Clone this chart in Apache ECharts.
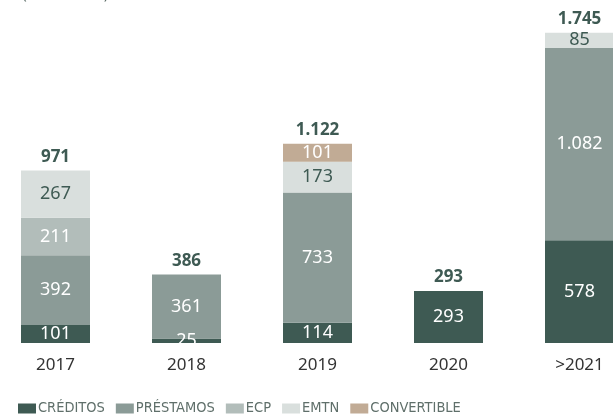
<!DOCTYPE html>
<html>
<head>
<meta charset="utf-8">
<script src="https://cdn.jsdelivr.net/npm/echarts@6/dist/echarts.min.js"></script>
<style>
  html, body { margin: 0; padding: 0; background: #fff; overflow: hidden; }
  /* el gráfico se sale un poco por los lados, como en el original */
  #chart { width: 660px; height: 418px; margin-left: -10px; }
</style>
</head>
<body>
<div id="chart"></div>
<script>
// datos (millones €)
const years = ['2017', '2018', '2019', '2020', '>2021']
const creditos = [101, 25, 114, 293, 578]
const prestamos = [392, 361, 733, null, 1082]
const ecp = [211, null, null, null, null]
const emtn = [267, null, 173, null, 85]
const convertible = [null, null, 101, null, null]
const totales = [971, 386, 1122, 293, 1745]

const fmt = (v) => String(v).replace(/\B(?=(\d{3})+(?!\d))/g, '.')
const font = 'Noto Sans'

const chart = echarts.init(document.getElementById('chart'))

// serie apilada con etiqueta interior
const mkSerie = (name, data, color, labelColor) => ({
  name,
  type: 'bar',
  stack: 'total',
  barWidth: 69,
  data,
  itemStyle: { color },
  label: {
    show: true,
    position: 'inside',
    color: labelColor,
    fontFamily: font,
    fontSize: 18,
    formatter: (p) => fmt(p.value)
  }
})

chart.setOption({
  animation: false,
  graphic: [{
    type: 'text',
    left: 32,
    top: -14,
    style: { text: '(millones €)', fill: '#5a6b66', font: '16px Noto Sans' }
  }],
  legend: {
    data: ['CRÉDITOS', 'PRÉSTAMOS', 'ECP', 'EMTN', 'CONVERTIBLE'],
    left: 23,
    bottom: -3,
    itemWidth: 18,
    itemHeight: 10,
    itemGap: 11,
    icon: 'rect',
    textStyle: { color: '#5f6f6a', fontFamily: "'DejaVu Sans Condensed', 'Noto Sans'", fontSize: 14.5, padding: [0, 0, 0, -3] }
  },
  grid: {
    left: 0,
    width: 655,
    top: 23,
    bottom: 75
  },
  xAxis: {
    type: 'category',
    data: years,
    axisLine: { show: false },
    axisTick: { show: false },
    axisLabel: { color: '#333', fontFamily: font, fontSize: 17, margin: 14 }
  },
  yAxis: {
    type: 'value',
    min: 0,
    max: 1800,
    show: false,
    splitLine: { show: false }
  },
  series: [
    mkSerie('CRÉDITOS', creditos, '#3e5a53', '#fff'),
    mkSerie('PRÉSTAMOS', prestamos, '#8b9b97', '#fff'),
    mkSerie('ECP', ecp, '#b2bdba', '#fff'),
    mkSerie('EMTN', emtn, '#d9dfdd', '#3e5a53'),
    mkSerie('CONVERTIBLE', convertible, '#c1ab95', '#fff'),
    {
      name: 'total',
      type: 'bar',
      barWidth: 69,
      barGap: '-100%',
      z: 1,
      data: totales,
      itemStyle: { color: 'transparent' },
      label: {
        show: true,
        position: 'top',
        distance: 5,
        color: '#3e5a53',
        fontWeight: 'bold',
        fontFamily: font,
        fontSize: 17,
        formatter: (p) => fmt(p.value)
      }
    }
  ]
})

window.addEventListener('resize', () => chart.resize())
</script>
</body>
</html>
